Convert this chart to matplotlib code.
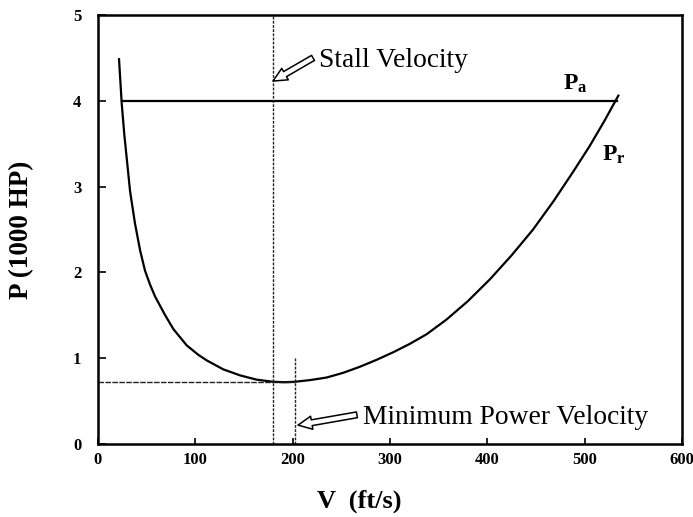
import matplotlib
matplotlib.use("Agg")
import matplotlib.pyplot as plt

plt.rcParams['font.family'] = ['Liberation Serif', 'DejaVu Serif']
plt.rcParams['mathtext.fontset'] = 'custom'
plt.rcParams['mathtext.rm'] = 'Liberation Serif'
plt.rcParams['mathtext.bf'] = 'Liberation Serif:bold'

# Power required curve
V_r = [21.6, 24.3, 27.0, 30.5, 32.9, 38.0, 43.2, 48.3, 53.4, 58.6, 68.8, 77.4,
       91.1, 103.0, 111.6, 128.7, 145.9, 163.0, 180.0, 192.0, 202.0, 218.0, 235.0,
       252.0, 269.0, 286.0, 303.4, 320.0, 337.7, 358.0, 380.0, 402.7, 425.0,
       447.0, 468.0, 488.0, 505.0, 520.0, 534.6]
P_r = [4.485, 3.98, 3.61, 3.22, 2.95, 2.57, 2.26, 2.02, 1.86, 1.72, 1.505, 1.34,
       1.15, 1.04, 0.975, 0.87, 0.80, 0.75, 0.725, 0.72, 0.725, 0.745, 0.775,
       0.83, 0.90, 0.98, 1.07, 1.165, 1.28, 1.45, 1.665, 1.92, 2.20,
       2.50, 2.83, 3.17, 3.47, 3.76, 4.06]

# Power available line
V_a = [25.0, 533.0]
P_a = [4.0, 4.0]

V_stall = 180.0
V_minpower = 202.0
P_min = 0.72
P_minpower_top = 1.0

x_ticks = [0, 100, 200, 300, 400, 500, 600]
y_ticks = [0, 1, 2, 3, 4, 5]

fig = plt.figure(figsize=(6.93, 5.17), dpi=100)
ax = fig.add_axes([98/693, 1-444/517, 584/693, 429/517])

ax.plot(V_r, P_r, color='black', lw=1.6, solid_joinstyle='round')
ax.plot(V_a, P_a, color='black', lw=1.6)
ax.plot([V_stall, V_stall], [0, 5], color='#222222', lw=1.0, ls=(0, (2, 1)))
ax.plot([V_minpower, V_minpower], [0, P_minpower_top], color='#222222', lw=1.0, ls=(0, (2, 1)))
ax.plot([0, V_minpower], [P_min, P_min], color='#222222', lw=1.0, ls=(0, (4, 1)))

ax.set_xlim(0, 600)
ax.set_ylim(0, 5)
ax.set_xticks(x_ticks)
ax.set_yticks(y_ticks)
ax.set_xticklabels([str(t) for t in x_ticks], fontweight='bold', fontsize=12)
ax.set_yticklabels([str(t) for t in y_ticks], fontweight='bold', fontsize=12)
ax.tick_params(axis='y', direction='in', length=6, width=1.2, pad=12)
ax.tick_params(axis='x', direction='in', length=4, width=1.2, pad=6)
for s in ax.spines.values():
    s.set_linewidth(1.8)

ax.set_xlabel('V  (ft/s)', fontsize=19, fontweight='bold')
ax.xaxis.set_label_coords(0.448, -0.107)
ax.set_ylabel('P (1000 HP)', fontsize=19.5, fontweight='bold')
ax.yaxis.set_label_coords(-0.1096, 0.5)

arrow_props = dict(arrowstyle='simple,head_width=0.95,head_length=1.0,tail_width=0.42',
                   fc='white', ec='black', lw=1.1, shrinkA=0, shrinkB=0)
ax.annotate('', xy=(179.8, 4.23), xytext=(220.9, 4.5), arrowprops=arrow_props)
ax.text(227, 4.47, 'Stall Velocity', fontsize=19.8, ha='left', va='center')
ax.annotate('', xy=(205.5, 0.22), xytext=(266, 0.34), arrowprops=arrow_props)
ax.text(272, 0.31, 'Minimum Power Velocity', fontsize=19.8, ha='left', va='center')

ax.text(477.7, 4.13, r'$\mathbf{P_a}$', fontsize=17, ha='left', va='baseline')
ax.text(518, 3.30, r'$\mathbf{P_r}$', fontsize=17, ha='left', va='baseline')

fig.savefig('out.png', dpi=100)
